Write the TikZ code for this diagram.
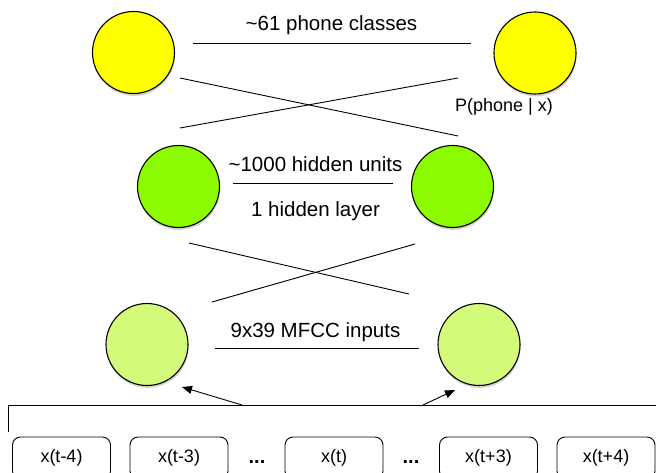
\documentclass[tikz,border=0pt]{standalone}
\usepackage{fontspec}
\setmainfont{Liberation Sans}
\usetikzlibrary{arrows.meta,shadows}
\definecolor{outY}{HTML}{FFFF00}
\definecolor{hidG}{HTML}{8CFA00}
\definecolor{inG}{HTML}{D4FA7A}
\tikzset{
  unit/.style={circle, draw=black, line width=1.1pt, minimum size=82pt, inner sep=0pt,
    drop shadow={shadow xshift=0.6pt, shadow yshift=-2.4pt, opacity=0.35}},
  wire/.style={line width=0.9pt},
  lbl/.style={font=\fontsize{20.5}{24}\selectfont, anchor=base, inner sep=0pt},
  plbl/.style={font=\fontsize{18}{21}\selectfont, anchor=base, inner sep=0pt},
  frame/.style={draw, rounded corners=8pt, line width=0.9pt, minimum width=98pt,
    minimum height=42pt, inner sep=0pt, font=\fontsize{18}{21}\selectfont},
  dots/.style={font=\fontsize{20}{22}\selectfont\bfseries, anchor=base, inner sep=0pt},
  arr/.style={line width=0.9pt, -{Triangle[length=10pt,width=8pt]}}
}
\begin{document}
\begin{tikzpicture}[x=1pt,y=-1pt]
\useasboundingbox (0,0) rectangle (656,473);
% units
\node[unit, fill=outY] (o1) at (133.5,52.5) {};
\node[unit, fill=outY] (o2) at (535,53) {};
\node[unit, fill=hidG] (h1) at (178.5,186.5) {};
\node[unit, fill=hidG] (h2) at (452.5,186.5) {};
\node[unit, fill=inG] (i1) at (147,344.5) {};
\node[unit, fill=inG] (i2) at (479,344.5) {};
% labels
\node[lbl] (tout) at (331.5,31) {\textasciitilde 61 phone classes};
\node[plbl] (tp) at (504,112) {P(phone | x)};
\node[lbl] (thid) at (315.5,171.5) {\textasciitilde 1000 hidden units};
\node[lbl] (tlay) at (315.5,217) {1 hidden layer};
\node[lbl] (tin) at (315.5,337) {9x39 MFCC inputs};
% layer lines
\coordinate (a1) at (193,43);  \coordinate (a2) at (471,43);
\coordinate (b1) at (180,78);  \coordinate (b2) at (458,136);
\coordinate (c1) at (180,128); \coordinate (c2) at (458,78);
\coordinate (d1) at (233,183); \coordinate (d2) at (393,183);
\coordinate (e1) at (189,243); \coordinate (e2) at (409,294);
\coordinate (f1) at (212,302); \coordinate (f2) at (415,244);
\coordinate (g1) at (215,348); \coordinate (g2) at (419,348);
\draw[wire] (a1) -- (a2);
\draw[wire] (b1) -- (b2);
\draw[wire] (c1) -- (c2);
\draw[wire] (d1) -- (d2);
\draw[wire] (e1) -- (e2);
\draw[wire] (f1) -- (f2);
\draw[wire] (g1) -- (g2);
% input frames
\node[frame] (x1) at (61.5,458) {x(t-4)};
\node[frame] (x2) at (179,458) {x(t-3)};
\node[dots] (d3) at (257,463) {...};
\node[frame] (x3) at (334,458) {x(t)};
\node[dots] (d4) at (411,463) {...};
\node[frame] (x4) at (488.5,458) {x(t+3)};
\node[frame] (x5) at (606,458) {x(t+4)};
% bracket and arrows
\coordinate (br0) at (8,432);
\coordinate (br1) at (8,405);
\coordinate (br2) at (656,405);
\draw[wire] (br0) -- (br1) -- (br2);
\coordinate (s1) at (242,405); \coordinate (t1) at (182,387);
\coordinate (s2) at (423,405); \coordinate (t2) at (455,390);
\draw[arr] (s1) -- (t1);
\draw[arr] (s2) -- (t2);
\end{tikzpicture}
\end{document}
